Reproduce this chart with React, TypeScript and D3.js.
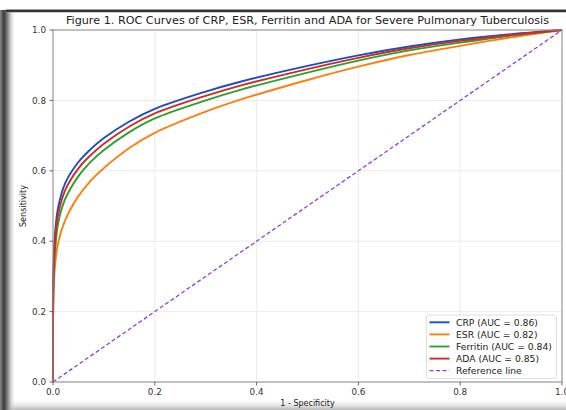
import React from "react";
import * as d3 from "d3";

const title =
  "Figure 1. ROC Curves of CRP, ESR, Ferritin and ADA for Severe Pulmonary Tuberculosis";

const fpr = [0, 0.001, 0.004, 0.01, 0.024, 0.05, 0.073, 0.1, 0.15, 0.2, 0.3, 0.368, 0.5, 0.6, 0.7, 0.8, 0.9, 1.0];

const crpTpr = [0, 0.33, 0.42, 0.495, 0.565, 0.625, 0.66, 0.693, 0.74, 0.776, 0.825, 0.853, 0.898, 0.928, 0.953, 0.973, 0.988, 1.0];
const esrTpr = [0, 0.25, 0.33, 0.395, 0.46, 0.528, 0.57, 0.608, 0.665, 0.708, 0.768, 0.802, 0.858, 0.896, 0.929, 0.955, 0.979, 1.0];
const ferritinTpr = [0, 0.28, 0.37, 0.45, 0.52, 0.585, 0.624, 0.659, 0.71, 0.749, 0.8, 0.83, 0.879, 0.913, 0.942, 0.964, 0.984, 1.0];
const adaTpr = [0, 0.3, 0.4, 0.475, 0.545, 0.607, 0.643, 0.677, 0.726, 0.763, 0.813, 0.842, 0.889, 0.921, 0.948, 0.969, 0.986, 1.0];

const seriesNames = ["CRP", "ESR", "Ferritin", "ADA"];
const seriesAuc = [0.86, 0.82, 0.84, 0.85];
const seriesTpr = [crpTpr, esrTpr, ferritinTpr, adaTpr];
const seriesColors = ["#1a4fc0", "#ff7f0e", "#2ca02c", "#d62728"];

const ticks = [0, 0.2, 0.4, 0.6, 0.8, 1.0];

const W = 566;
const H = 410;
const left = 53;
const right = 562;
const top = 30;
const bottom = 382;
const font = "DejaVu Sans, sans-serif";

export default function App() {
  const x = d3.scaleLinear().domain([0, 1]).range([left, right]);
  const y = d3.scaleLinear().domain([0, 1]).range([bottom, top]);

  const line = d3
    .line<number>()
    .x((_, i) => x(fpr[i]))
    .y((d) => y(d))
    .curve(d3.curveCatmullRom.alpha(0.5));

  const legendRows = [
    ...seriesNames.map((n, i) => ({
      label: `${n} (AUC = ${seriesAuc[i].toFixed(2)})`,
      color: seriesColors[i],
      dash: undefined as string | undefined,
    })),
    { label: "Reference line", color: "#8a3ee0", dash: "4,2.5" },
  ];

  return (
    <svg
      width={W}
      height={H}
      style={{ position: "absolute", left: 0, top: 0, background: "#fff" }}
      fontFamily={font}
    >
      <defs>
        <linearGradient id="leftEdge" x1="0" x2="1" y1="0" y2="0">
          <stop offset="0" stopColor="#8a8a8a" />
          <stop offset="0.25" stopColor="#3a3a3a" />
          <stop offset="0.5" stopColor="#8c8c8c" />
          <stop offset="1" stopColor="#ffffff" stopOpacity="0" />
        </linearGradient>
        <linearGradient id="bottomEdge" x1="0" x2="0" y1="0" y2="1">
          <stop offset="0" stopColor="#ffffff" stopOpacity="0" />
          <stop offset="1" stopColor="#b4b4b4" />
        </linearGradient>
        <linearGradient id="topEdge" x1="0" x2="0" y1="0" y2="1">
          <stop offset="0" stopColor="#444" />
          <stop offset="0.6" stopColor="#222" />
          <stop offset="1" stopColor="#999" />
        </linearGradient>
      </defs>

      {/* screenshot frame */}
      <rect x={0} y={398} width={W} height={12} fill="url(#bottomEdge)" />
      <rect x={0} y={10} width={16} height={H - 10} fill="url(#leftEdge)" />
      <rect x={6} y={9.5} width={W - 6} height={3} fill="url(#topEdge)" />

      {/* grid */}
      {ticks.map((t) => (
        <g key={"g" + t}>
          <line x1={x(t)} x2={x(t)} y1={top} y2={bottom} stroke="#e6e6e6" strokeWidth={0.8} />
          <line x1={left} x2={right} y1={y(t)} y2={y(t)} stroke="#e6e6e6" strokeWidth={0.8} />
        </g>
      ))}

      {/* reference diagonal */}
      <line
        x1={x(0)}
        y1={y(0)}
        x2={x(1)}
        y2={y(1)}
        stroke="#8a3ee0"
        strokeWidth={1.3}
        strokeDasharray="4,2.5"
      />

      {/* ROC curves */}
      {seriesTpr.map((s, i) => (
        <path key={seriesNames[i]} d={line(s) ?? ""} fill="none" stroke={seriesColors[i]} strokeWidth={1.9} />
      ))}

      {/* spines */}
      <rect x={left} y={top} width={right - left} height={bottom - top} fill="none" stroke="#8c8c8c" strokeWidth={1} />

      {/* ticks */}
      {ticks.map((t) => (
        <g key={"t" + t} fill="#333" fontSize={8.8}>
          <line x1={x(t)} x2={x(t)} y1={bottom} y2={bottom + 3.5} stroke="#444" strokeWidth={0.8} />
          <text x={x(t)} y={bottom + 12.5} textAnchor="middle">
            {t.toFixed(1)}
          </text>
          <line x1={left - 3.5} x2={left} y1={y(t)} y2={y(t)} stroke="#444" strokeWidth={0.8} />
          <text x={left - 7} y={y(t) + 3.2} textAnchor="end">
            {t.toFixed(1)}
          </text>
        </g>
      ))}

      {/* axis labels */}
      <text x={(left + right) / 2} y={406} textAnchor="middle" fontSize={8} fill="#222">
        1 - Specificity
      </text>
      <text
        transform={`translate(25.5,${(top + bottom) / 2}) rotate(-90)`}
        textAnchor="middle"
        fontSize={8.1}
        fill="#222"
      >
        Sensitivity
      </text>

      {/* title */}
      <text
        transform={`translate(${(left + right) / 2},24) scale(1.12,1)`}
        textAnchor="middle"
        fontSize={10}
        fill="#222"
      >
        {title}
      </text>

      {/* legend */}
      <g>
        <rect x={426.5} y={315} width={130} height={63.5} rx={2} fill="#fff" fillOpacity={0.85} stroke="#d6d6d6" strokeWidth={0.8} />
        {legendRows.map((r, i) => {
          const ry = 322.3 + i * 12.1;
          return (
            <g key={r.label}>
              <line x1={429.5} x2={449.5} y1={ry} y2={ry} stroke={r.color} strokeWidth={r.dash ? 1.3 : 1.9} strokeDasharray={r.dash} />
              <text x={456} y={ry + 3.3} fontSize={9.2} fill="#222">
                {r.label}
              </text>
            </g>
          );
        })}
      </g>
    </svg>
  );
}
